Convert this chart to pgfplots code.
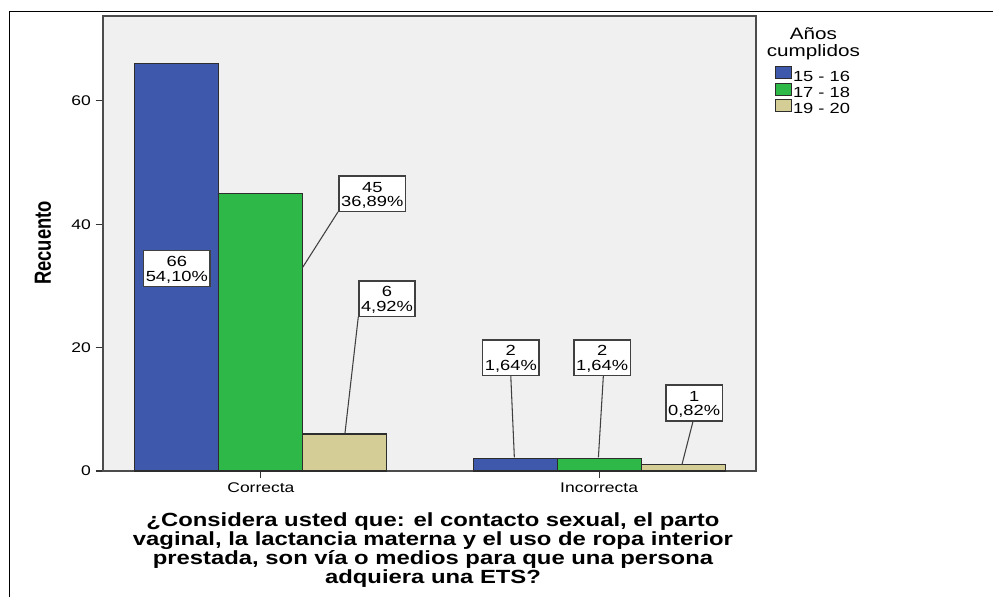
\documentclass[border=0pt]{standalone}
\usepackage{fontspec}
\setmainfont{Liberation Sans}[FakeStretch=1.25]
\newfontfamily\plainfont{Liberation Sans}
\usepackage{graphicx}
\usepackage{pgfplots}
\pgfplotsset{compat=1.18}
\definecolor{cblue}{RGB}{62,88,172}
\definecolor{cgreen}{RGB}{46,184,72}
\definecolor{ctan}{RGB}{212,206,150}
\definecolor{cbg}{RGB}{240,240,240}
\definecolor{cedge}{RGB}{45,45,45}
\newcommand{\tl}{\rule{0pt}{9.5pt}}
\tikzset{
  lbl/.style={draw=black!75, line width=1pt, fill=white, align=center,
    font=\fontsize{11}{10.9}\selectfont, inner xsep=1.6pt, inner ysep=2.5pt},
}
\pgfplotsset{
  lead/.style={black!75, line width=0.8pt, mark=none, forget plot},
  mybar/.style={ybar, draw=cedge, line width=0.8pt, bar width=63pt,
    legend image code/.code={\draw[##1, line width=0.8pt] (0pt,-0.6pt) rectangle (12pt,8.4pt);}},
}
\begin{document}
\begin{tikzpicture}
\useasboundingbox (0,0) rectangle (744.75pt,447.75pt);
\fill[white] (0,0) rectangle (744.75pt,447.75pt);
\draw[black, line width=1.1pt] (7.125pt,0) -- (7.125pt,439.125pt) -- (744.75pt,439.125pt);
\begin{axis}[
  at={(77.25pt,94.5pt)}, anchor=south west,
  scale only axis, width=489.75pt, height=341.25pt,
  xmin=-0.467, xmax=1.464, ymin=0, ymax=73.74,
  axis background/.style={fill=cbg},
  axis line style={draw=black!70, line width=0.9pt},
  xtick={0,1}, xticklabels={Correcta,Incorrecta},
  ytick={0,20,40,60},
  xtick pos=bottom, ytick pos=left,
  tick align=outside, major tick length=5.5pt,
  tick style={black!80, line width=0.8pt},
  ticklabel style={font=\fontsize{10.5}{12}\selectfont},
  /pgf/number format/assume math mode=true,
  legend style={at={(axis description cs:1.0291,0.8901)}, anchor=north west,
    draw=none, fill=none, inner sep=0pt, row sep=-1.8pt,
    font=\fontsize{11}{12.5}\selectfont,
    nodes={inner sep=0.5pt, text height=7pt, text depth=2.5pt}},
  legend cell align=left,
  clip=false,
]
\addplot[mybar, fill=cblue, bar shift=-63pt] coordinates {(0,66) (1,2)};
\addlegendentry{15 - 16}
\addplot[mybar, fill=cgreen, bar shift=0pt] coordinates {(0,45) (1,2)};
\addlegendentry{17 - 18}
\addplot[mybar, fill=ctan, bar shift=63pt] coordinates {(0,6) (1,1)};
\addlegendentry{19 - 20}
% leader lines
\addplot[lead] coordinates {(0.228,42.0) (0.1234,33.0)};
\addplot[lead] coordinates {(0.288,25.0) (0.2485,6.1)};
\addplot[lead] coordinates {(0.7388,15.5) (0.7494,2.22)};
\addplot[lead] coordinates {(1.0127,15.5) (0.998,2.22)};
\addplot[lead] coordinates {(1.278,8.1) (1.2447,0.97)};
% value labels
\node[lbl] at (axis cs:-0.2485,32.8) {\tl 66\\54,10\%};
\node[lbl] at (axis cs:0.3293,44.9) {\tl 45\\36,89\%};
\node[lbl] at (axis cs:0.3728,27.9) {\tl 6\\4,92\%};
\node[lbl] at (axis cs:0.739,18.36) {\tl 2\\1,64\%};
\node[lbl] at (axis cs:1.0089,18.36) {\tl 2\\1,64\%};
\node[lbl] at (axis cs:1.281,11.02) {\tl 1\\0,82\%};
\end{axis}
\node[inner sep=0pt] at (32.25pt,265.5pt) {\scalebox{1.27}[1]{\rotatebox{90}{\plainfont\bfseries\fontsize{13.8}{15}\selectfont Recuento}}};
\node[inner sep=0pt, anchor=north, align=center, font=\bfseries\fontsize{14.3}{13.05}\selectfont] at (324.75pt,63.75pt)
  {¿Considera usted que: el contacto sexual, el parto\\vaginal, la lactancia materna y el uso de ropa interior\\prestada, son vía o medios para que una persona\\adquiera una ETS?};
\node[inner sep=0pt, anchor=north, align=center, font=\fontsize{12.4}{12.75}\selectfont] at (610pt,427.5pt) {Años\\cumplidos};
\end{tikzpicture}
\end{document}
